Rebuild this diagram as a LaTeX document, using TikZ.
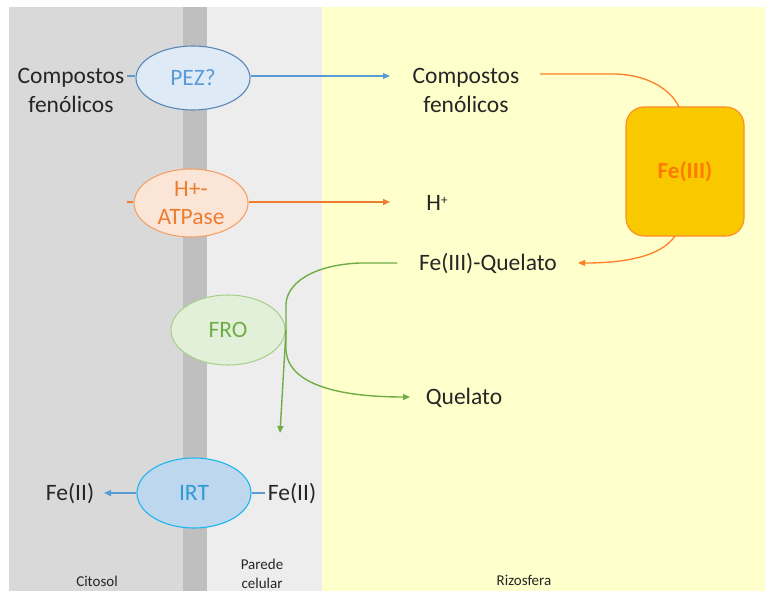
\documentclass[tikz,border=0pt]{standalone}
\usepackage{fontspec}
\setmainfont{Carlito}
\usetikzlibrary{shapes.geometric,arrows.meta}
\definecolor{citosol}{HTML}{D9D9D9}
\definecolor{membr}{HTML}{BFBFBF}
\definecolor{parede}{HTML}{EDEDED}
\definecolor{rizo}{HTML}{FFFFCC}
\definecolor{txt}{HTML}{262626}
\definecolor{bluefill}{HTML}{DEEBF7}
\definecolor{blueline}{HTML}{5B87B8}
\definecolor{bluetxt}{HTML}{5B9BD5}
\definecolor{orfill}{HTML}{FBE5D6}
\definecolor{orline}{HTML}{F4A06A}
\definecolor{ortxt}{HTML}{ED7D31}
\definecolor{grfill}{HTML}{E2F0D9}
\definecolor{grline}{HTML}{A9D18E}
\definecolor{grtxt}{HTML}{70AD47}
\definecolor{irtfill}{HTML}{BDD7EE}
\definecolor{irtline}{HTML}{1CB5EE}
\definecolor{irttxt}{HTML}{2E9AD8}
\definecolor{boxfill}{HTML}{F9C900}
\definecolor{boxline}{HTML}{FF8C2A}
\definecolor{boxtxt}{HTML}{FF7A00}
\definecolor{feline}{HTML}{FF7F27}
\tikzset{
  x=1pt, y=-1pt,
  lbl/.style={font=\fontsize{23.5}{29}\selectfont, text=txt, align=center, inner sep=0pt},
  small/.style={font=\fontsize{15}{19}\selectfont, text=txt, align=center, inner sep=0pt},
  prot/.style={ellipse, draw, line width=1.1pt, minimum width=114pt, minimum height=64pt, inner sep=0pt, align=center, font=\fontsize{23.5}{28}\selectfont},
  tip/.style={-{Triangle[length=7pt,width=6pt]}},
}
\begin{document}
\begin{tikzpicture}
\useasboundingbox (0,0) rectangle (765,591);
\fill[white] (0,0) rectangle (765,591);
% regions
\fill[citosol] (9,7) rectangle (183,591);
\fill[membr] (183,7) rectangle (207,591);
\fill[parede] (207,7) rectangle (322,591);
\fill[rizo] (322,7) rectangle (765,591);

% proteins
\node[prot, fill=bluefill, draw=blueline, text=bluetxt] (pez) at (193,78) {PEZ?};
\node[prot, fill=orfill, draw=orline, text=ortxt, minimum width=114pt, minimum height=68pt] (atp) at (191,203) {H+-\\ATPase};
\node[prot, fill=grfill, draw=grline, text=grtxt, minimum height=70pt] (fro) at (228,330) {FRO};
\node[prot, fill=irtfill, draw=irtline, text=irttxt, minimum height=70pt] (irt) at (194,493) {IRT};

% Fe(III) box
\node[draw=boxline, fill=boxfill, line width=1.1pt, rounded corners=18pt, minimum width=118pt, minimum height=129pt, font=\bfseries\fontsize{23}{28}\selectfont, text=boxtxt] (fe3) at (685,171.5) {Fe(III)};

% texts
\node[lbl] (compL) at (71,90) {Compostos\\fenólicos};
\node[lbl] (compR) at (466,90) {Compostos\\fenólicos};
\node[lbl] (hplus) at (437,203) {H\raisebox{0.55ex}{\fontsize{13}{13}\selectfont +}};
\node[lbl] (feq) at (488,264) {Fe(III)-Quelato};
\node[lbl] (quel) at (464,398) {Quelato};
\node[lbl] (fe2L) at (70,494) {Fe(II)};
\node[lbl] (fe2R) at (292,494) {Fe(II)};
\node[small] (cit) at (97,581) {Citosol};
\node[small] (par) at (262,574) {Parede\\celular};
\node[small] (riz) at (524,580) {Rizosfera};

% coordinates
\coordinate (pezin) at (127,76);
\coordinate (pezout) at (390,76);
\coordinate (atpin) at (127,202);
\coordinate (atpout) at (390,202);
\coordinate (feqend) at (397,263);
\coordinate (froR) at (286,330);
\coordinate (downtip) at (280,433);
\coordinate (queltip) at (410,397);
\coordinate (irtout) at (104,493);
\coordinate (fe2Rin) at (265,493);
\coordinate (compRend) at (540,74);
\coordinate (fetop) at (679,107);
\coordinate (febot) at (675,236);
\coordinate (feqtip) at (578,263);

% blue PEZ
\draw[bluetxt, line width=1.1pt] (pezin) -- (pezin -| pez.west);
\draw[bluetxt, line width=1.1pt, tip] (pez.east |- pezout) -- (pezout);
% orange ATPase
\draw[ortxt, line width=1.3pt] (atpin) -- (atpin -| atp.west);
\draw[ortxt, line width=1.3pt, tip] (atp.east |- atpout) -- (atpout);
% orange Fe(III) curves
\draw[feline, line width=1.3pt] (compRend) -- (613,74) .. controls (645,74) and (670,88) .. (fetop);
\draw[feline, line width=1.3pt, tip] (febot) .. controls (660,258) and (620,263) .. (feqtip);
% green FRO
\draw[grtxt, line width=1.4pt] (feqend) -- (360,263) .. controls (310,265) and (286,285) .. (286,305) -- (froR);
\draw[grtxt, line width=1.4pt, tip] (froR) -- (downtip);
\draw[grtxt, line width=1.4pt, tip] (froR) -- (286,350) .. controls (288,385) and (340,397) .. (queltip);
% IRT
\draw[bluetxt, line width=1.3pt, tip] (irt.west) -- (irtout);
\draw[bluetxt, line width=1.3pt] (fe2Rin) -- (irt.east);
\end{tikzpicture}
\end{document}
